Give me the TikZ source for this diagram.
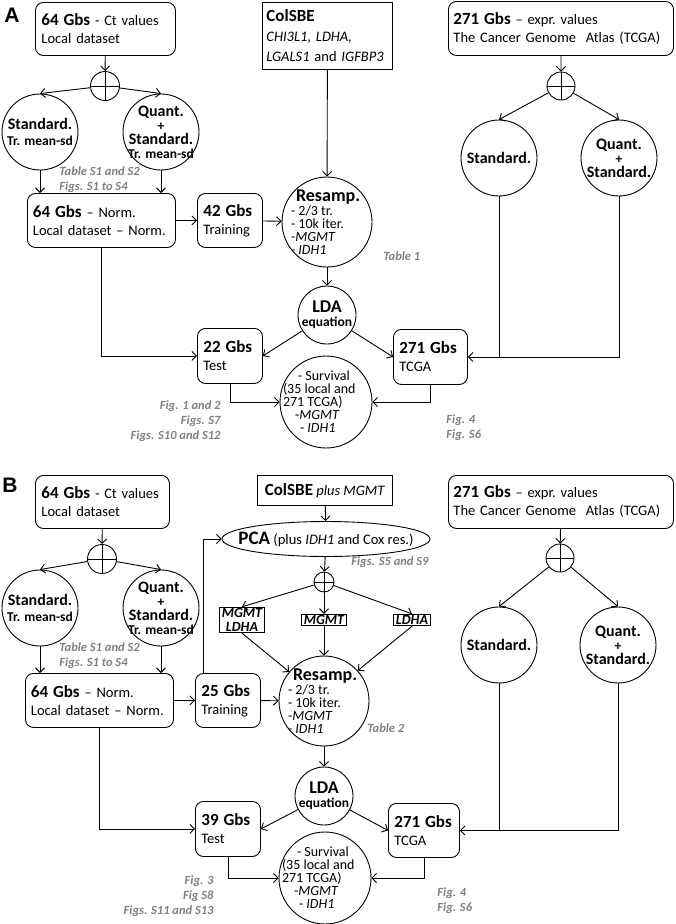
\documentclass[tikz,border=0pt]{standalone}
\usepackage{fontspec}
\setmainfont{Carlito}
\newfontfamily\panelfont{Liberation Sans}
\usepackage{tikz}
\usetikzlibrary{arrows.meta}
\usetikzlibrary{positioning, shapes.geometric}

\newcommand{\gbs}[1]{{\fontsize{17}{18}\selectfont\bfseries #1}}
\newcommand{\ctitle}[1]{{\fontsize{16}{16}\selectfont\bfseries #1}}
\newcommand{\incirc}[3][\centering]{\makebox[0pt]{\parbox{#2}{#1\lineskiplimit=-20pt #3}}}

\tikzset{
  arr/.style={-{Straight Barb[length=4.5pt,width=9pt]}},
  nobreak/.style={execute at begin node={\hyphenpenalty=10000\exhyphenpenalty=10000}},
  rbox/.style={draw, rounded corners=8pt, anchor=north west, align=left, nobreak,
    inner xsep=6pt, inner ysep=0pt, text width=#1},
  sbox/.style={draw, anchor=north west, align=left, nobreak,
    inner xsep=4pt, inner ysep=0pt, text width=#1},
  tbox/.style={draw, line width=1.2pt, inner xsep=2.5pt, inner ysep=1pt, align=center,
    font=\fontsize{14}{14}\selectfont\bfseries\itshape},
  circ/.style={draw, circle, minimum size=#1, inner sep=0pt},
  split/.style={draw, circle, minimum size=#1, inner sep=0pt,
    path picture={\draw (path picture bounding box.north) -- (path picture bounding box.south)
      (path picture bounding box.west) -- (path picture bounding box.east);}},
  note/.style={inner sep=0pt, text=black!50, font=\fontsize{12.5}{15}\selectfont\bfseries\itshape},
  tag/.style={inner sep=0pt, font=\panelfont\fontsize{21}{21}\selectfont\bfseries},
  stdfont/.style={font=\fontsize{13.5}{14}\selectfont\bfseries},
  listfont/.style={font=\fontsize{14}{13}\selectfont},
  survfont/.style={font=\fontsize{14}{13}\selectfont},
}

\begin{document}
\begin{tikzpicture}[x=1pt, y=-1pt, line width=0.9pt, font=\fontsize{14.5}{18}\selectfont]
  \useasboundingbox (0,0) rectangle (675,924);

  % panel A: local dataset
  \node[tag] (tagA) at (12,15) {A};
  \node[rbox=128pt, minimum height=53pt] (actval) at (35,2) {\gbs{64 Gbs} - Ct values\\Local dataset};
  \node[split=29pt] (asplit) at (105,86) {};
  \node[circ=76pt, stdfont] (astd) at (40,132) {\incirc{76pt}{\ctitle{Standard.}\\[2pt]Tr. mean-sd}};
  \node[circ=76pt, stdfont] (aqst) at (161,132) {\incirc{76pt}{\ctitle{Quant.}\\+\\\ctitle{Standard.}\\Tr. mean-sd}};
  \node[note, anchor=west, align=left] (anote) at (59,180) {Table S1 and S2\\Figs. S1 to S4};
  \node[rbox=137pt, minimum height=54pt, inner xsep=5.5pt] (anorm) at (27,193) {\gbs{64 Gbs} -- Norm.\\Local~dataset~--~Norm.};
  \node[rbox=53pt, minimum height=54pt] (atrain) at (197,193) {\gbs{42 Gbs}\\Training};
  % panel A: signature and model
  \node[sbox=122pt, minimum height=67pt] (acol) at (262,2) {\gbs{ColSBE}\\[2pt]\textit{CHI3L1, LDHA,}\\[2pt]\textit{LGALS1}~and~\textit{IGFBP3}};
  \node[circ=90pt, listfont] (aresamp) at (327,222) {\incirc[\raggedright]{72pt}{\hspace*{5pt}{\fontsize{18}{18}\selectfont\bfseries Resamp.}\\[1pt]- 2/3 tr.\\- 10k iter.\\-\textit{MGMT}\\- \textit{IDH1}}};
  \node[note, anchor=west] (atab) at (383,256) {Table 1};
  \node[circ=58pt, stdfont] (alda) at (327,315) {\incirc{58pt}{{\fontsize{18}{18}\selectfont LDA}\\equation}};
  \node[rbox=53pt, minimum height=55pt] (atest) at (197,328) {\gbs{22 Gbs}\\Test};
  \node[rbox=62pt, minimum height=55pt] (atcga) at (393,329) {\gbs{271 Gbs}\\TCGA};
  \node[circ=92pt, survfont] (asurv) at (326,402) {\incirc[\raggedright]{86pt}{\hspace*{15pt}- Survival\\(35 local and\\271 TCGA)\\\hspace*{12pt}-\textit{MGMT}\\\hspace*{17pt}- \textit{IDH1}}};
  \node[note, anchor=east, align=right] (afig) at (221,421) {Fig. 1 and 2\\Figs. S7\\Figs. S10 and S12};
  \node[note, anchor=west, align=left] (afig2) at (446,428) {Fig. 4\\Fig. S6};
  % panel A: TCGA
  \node[rbox=215pt, minimum height=54pt, inner xsep=5pt] (aexpr) at (448,1) {\gbs{271 Gbs}~--~expr.~values\\The~Cancer~Genome~~Atlas~(TCGA)};
  \node[split=28pt] (asplit2) at (561,86) {};
  \node[circ=76pt, stdfont] (arstd) at (499,158) {\incirc{76pt}{\ctitle{Standard.}}};
  \node[circ=76pt, stdfont] (arqst) at (619,158) {\incirc{76pt}{\ctitle{Quant.}\\+\\\ctitle{Standard.}}};

  \draw[arr] (actval) -- (asplit);
  \draw[arr] (asplit) -- (astd.north);
  \draw[arr] (asplit) -- (aqst.north);
  \draw[arr] (astd) -- (astd |- anorm.north);
  \draw[arr] (aqst) -- (aqst |- anorm.north);
  \draw[arr] (anorm) -- (atrain);
  \draw[arr] (atrain) -- (aresamp);
  \draw[arr] (acol) -- (aresamp);
  \draw[arr] (aresamp) -- (alda);
  \draw[arr] (alda) -- (atest.east);
  \draw[arr] (alda) -- (atcga.west);
  \draw[arr] (anorm.south) |- (atest);
  \draw[arr] (atest.south) |- (asurv);
  \draw[arr] (atcga.south) |- (asurv);
  \draw[arr] (aexpr) -- (asplit2);
  \draw[arr] (asplit2) -- (arstd.north);
  \draw[arr] (asplit2) -- (arqst.north);
  \draw[arr] (arqst.south) |- (atcga.east);
  \draw (arstd.south) -- (arstd.south |- atcga.east);

  % panel B: local dataset
  \node[tag] (tagB) at (10,485) {B};
  \node[rbox=122pt, minimum height=53pt] (bctval) at (35,475) {\gbs{64 Gbs} - Ct values\\Local dataset};
  \node[split=29pt] (bsplit) at (102,559) {};
  \node[circ=76pt, stdfont] (bstd) at (40,608) {\incirc{76pt}{\ctitle{Standard.}\\[2pt]Tr. mean-sd}};
  \node[circ=76pt, stdfont] (bqst) at (161,608) {\incirc{76pt}{\ctitle{Quant.}\\+\\\ctitle{Standard.}\\Tr. mean-sd}};
  \node[note, anchor=west, align=left] (bnote) at (59,656) {Table S1 and S2\\Figs. S1 to S4};
  \node[rbox=137pt, minimum height=54pt, inner xsep=5.5pt] (bnorm) at (25,673) {\gbs{64 Gbs} -- Norm.\\Local~dataset~--~Norm.};
  \node[rbox=53pt, minimum height=54pt] (btrain) at (195,673) {\gbs{25 Gbs}\\Training};
  % panel B: signature, PCA and gene sets
  \node[draw, anchor=north west, minimum width=135pt, minimum height=30pt, inner sep=0pt] (bcol) at (257,475) {\gbs{ColSBE} \textit{plus MGMT}};
  \node[draw, ellipse, minimum width=208pt, minimum height=35pt, inner sep=0pt] (bpca) at (326,539) {\makebox[0pt]{{\fontsize{19}{19}\selectfont\bfseries PCA} (plus \textit{IDH1} and Cox res.)}};
  \node[note, anchor=east] (bfigpca) at (429,562) {Figs. S5 and S9};
  \node[split=20pt] (bsplit2) at (324,582) {};
  \node[tbox] (bml) at (242,620) {MGMT\\LDHA};
  \node[tbox] (bm) at (324,620) {MGMT};
  \node[tbox] (bl) at (412,620) {LDHA};
  \node[circ=90pt, listfont] (bresamp) at (324,701) {\incirc[\raggedright]{72pt}{\hspace*{5pt}{\fontsize{18}{18}\selectfont\bfseries Resamp.}\\[1pt]- 2/3 tr.\\- 10k iter.\\-\textit{MGMT}\\- \textit{IDH1}}};
  \node[note, anchor=west] (btab) at (367,728) {Table 2};
  \node[circ=58pt, stdfont] (blda) at (324,796) {\incirc{58pt}{{\fontsize{18}{18}\selectfont LDA}\\equation}};
  \node[rbox=53pt, minimum height=55pt] (btest) at (195,801) {\gbs{39 Gbs}\\Test};
  \node[rbox=59pt, minimum height=54pt] (btcga) at (388,803) {\gbs{271 Gbs}\\TCGA};
  \node[circ=92pt, survfont] (bsurv) at (325,878) {\incirc[\raggedright]{86pt}{\hspace*{15pt}- Survival\\(35 local and\\271 TCGA)\\\hspace*{12pt}-\textit{MGMT}\\\hspace*{17pt}- \textit{IDH1}}};
  \node[note, anchor=east, align=right] (bfig) at (214,896) {Fig. 3\\Fig S8\\Figs. S11 and S13};
  \node[note, anchor=west, align=left] (bfig2) at (437,901) {Fig. 4\\Fig. S6};
  % panel B: TCGA
  \node[rbox=215pt, minimum height=53pt, inner xsep=5pt] (bexpr) at (448,475) {\gbs{271 Gbs}~--~expr.~values\\The~Cancer~Genome~~Atlas~(TCGA)};
  \node[split=28pt] (bsplit3) at (560,558) {};
  \node[circ=76pt, stdfont] (brstd) at (499,645) {\incirc{76pt}{\ctitle{Standard.}}};
  \node[circ=76pt, stdfont] (brqst) at (618,645) {\incirc{76pt}{\ctitle{Quant.}\\+\\\ctitle{Standard.}}};

  \draw[arr] (bctval) -- (bsplit);
  \draw[arr] (bsplit) -- (bstd.north);
  \draw[arr] (bsplit) -- (bqst.north);
  \draw[arr] (bstd) -- (bstd |- bnorm.north);
  \draw[arr] (bqst) -- (bqst |- bnorm.north);
  \draw[arr] (bnorm) -- (btrain);
  \draw[arr] (btrain) -- (bresamp);
  \draw[arr] ([xshift=8pt]btrain.north west) |- (bpca);
  \draw[arr] (bcol) -- (bpca);
  \draw[arr] (bpca) -- (bsplit2);
  \draw[arr] (bsplit2) -- (bml.north);
  \draw[arr] (bsplit2) -- (bm);
  \draw[arr] (bsplit2) -- (bl.north);
  \draw[arr] (bml.south) -- (bresamp.140);
  \draw[arr] (bm) -- (bresamp);
  \draw[arr] (bl.south) -- (bresamp.42);
  \draw[arr] (bresamp) -- (blda);
  \draw[arr] (blda) -- (btest.east);
  \draw[arr] (blda) -- (btcga.west);
  \draw[arr] (bnorm.south) |- (btest);
  \draw[arr] (btest.south) |- (bsurv);
  \draw[arr] (btcga.south) |- (bsurv);
  \draw[arr] (bexpr) -- (bsplit3);
  \draw[arr] (bsplit3) -- (brstd.north);
  \draw[arr] (bsplit3) -- (brqst.north);
  \draw[arr] (brqst.south) |- (btcga.east);
  \draw (brstd.south) -- (brstd.south |- btcga.east);
\end{tikzpicture}
\end{document}
